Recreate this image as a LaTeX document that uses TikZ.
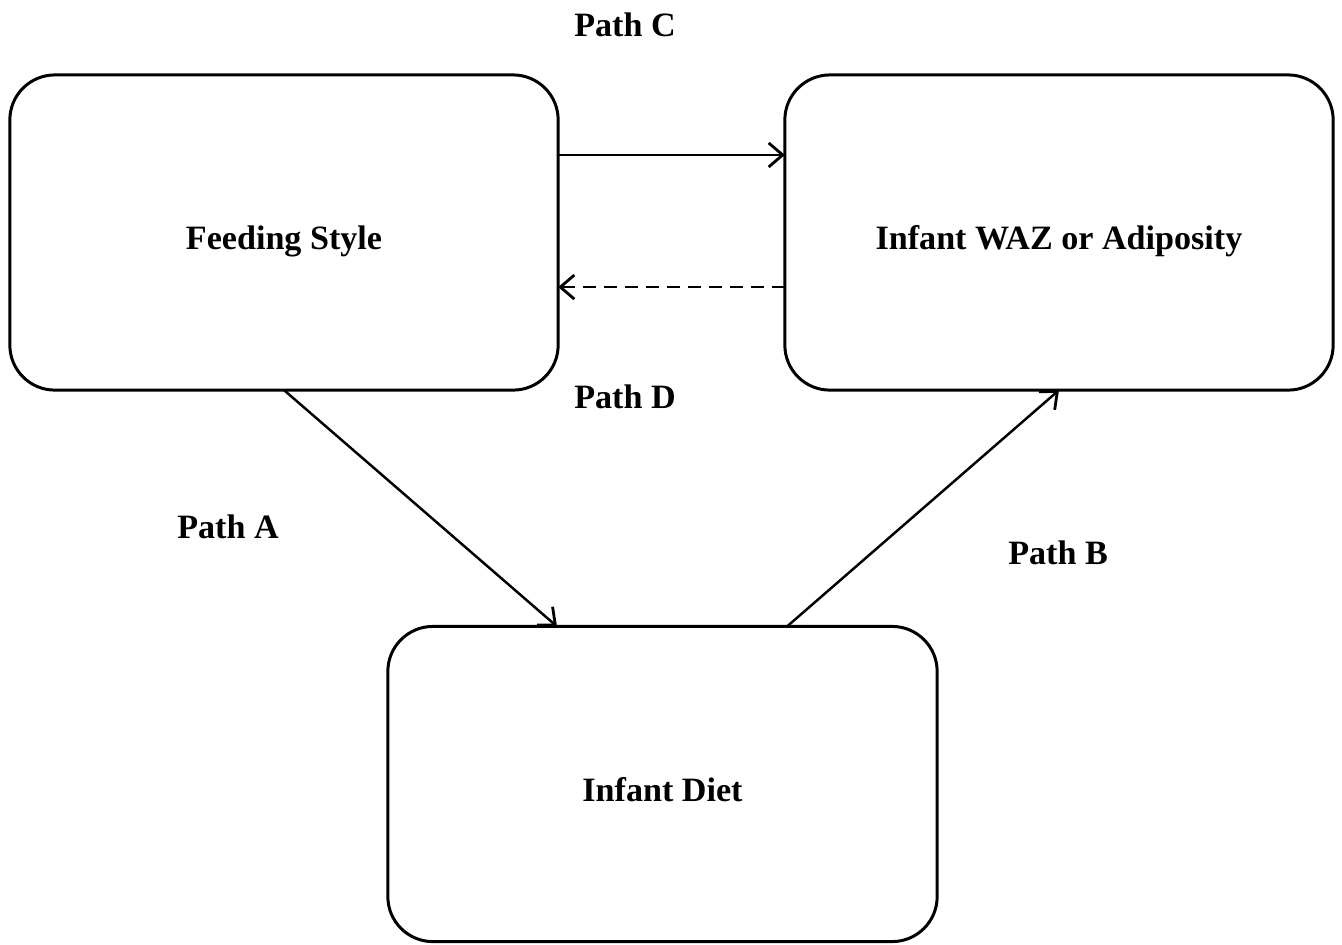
\documentclass[tikz,border=0pt]{standalone}
\usepackage{fontspec}
\setmainfont{Liberation Serif}
\usetikzlibrary{positioning,arrows.meta}

\begin{document}
\begin{tikzpicture}[x=0.01cm,y=-0.01cm,
  every node/.style={font=\fontsize{9.7}{12}\selectfont\bfseries},
  varbox/.style={draw,line width=0.85pt,rounded corners=0.45cm,inner sep=0pt,outer sep=0pt,
    minimum width=5.48cm,minimum height=3.15cm,text height=1.2em,text depth=0.22em},
  pfeil/.style={line width=0.7pt,-{Straight Barb[length=0.14cm,width=0.24cm,line width=0.8pt]}}]
\useasboundingbox (0,0) rectangle (1342,944);

\node[varbox] (feed) at (284,232.5) {Feeding Style};
\node[varbox] (waz) at (1059,232.5) {Infant WAZ or Adiposity};
\node[varbox,minimum width=5.49cm] (diet) at (662.5,784) {Infant Diet};

\node (pc) at (625,25) {Path C};
\node (pd) at (625,397) {Path D};
\node (pa) at (228,527) {Path A};
\node (pb) at (1058,553) {Path B};

\draw[pfeil] ([yshift=0.775cm]feed.east) -- ([yshift=0.775cm]waz.west);
\draw[pfeil,dash pattern=on 0.13cm off 0.08cm] ([yshift=-0.545cm]waz.west) -- ([yshift=-0.545cm]feed.east);

\draw[pfeil] (feed.south) -- ([xshift=-1.055cm]diet.north);
\draw[pfeil] ([xshift=1.245cm]diet.north) -- (waz.south);

\end{tikzpicture}
\end{document}
